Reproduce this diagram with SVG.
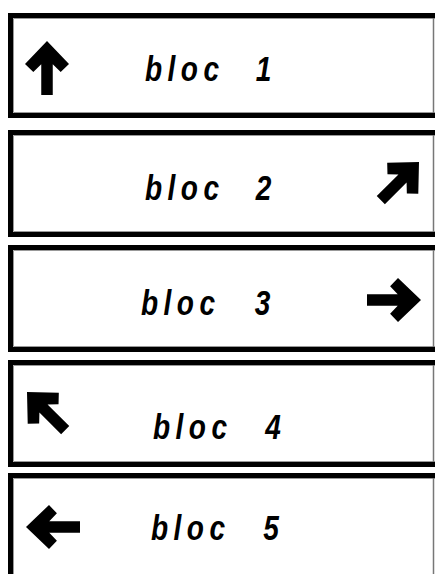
<svg xmlns="http://www.w3.org/2000/svg" width="435" height="574" viewBox="0 0 435 574">
<style>
.frame{fill:none;stroke:#000;stroke-width:5}
.inner{fill:none;stroke:#999;stroke-width:1}
.edge{stroke:#777;stroke-width:1.5}
.lbl{font-family:"Liberation Sans",Arial,sans-serif;font-weight:bold;font-style:italic;font-size:36px;fill:#000;letter-spacing:7px}
.arr{fill:#000}
</style>
<defs>
<polygon id="arrow" class="arr" points="0,0 -23,-22 -30.9,-13.7 -23.3,-5.75 -54,-5.75 -54,5.75 -23.3,5.75 -30.9,13.7 -23,22"/>
</defs>
<rect width="435" height="574" fill="#fff"/>
<g id="bloc1">
<path class="frame" d="M440 15.5 H10.5 V115.5 H440"/>
<path class="inner" d="M440 18.5 H13.5 V112.5 H440"/>
<line class="edge" x1="433.5" y1="18" x2="433.5" y2="113"/>
<use href="#arrow" transform="translate(47,41) rotate(-90)"/>
<text class="lbl" transform="translate(145,81) scale(0.78,1)"><tspan x="0">bloc</tspan> <tspan x="142">1</tspan></text>
</g>
<g id="bloc2">
<path class="frame" d="M440 132.5 H10.5 V234.5 H440"/>
<path class="inner" d="M440 135.5 H13.5 V231.5 H440"/>
<line class="edge" x1="433.5" y1="135" x2="433.5" y2="232"/>
<use href="#arrow" transform="translate(419,162) rotate(-45)"/>
<text class="lbl" transform="translate(145,200) scale(0.78,1)"><tspan x="0">bloc</tspan> <tspan x="142">2</tspan></text>
</g>
<g id="bloc3">
<path class="frame" d="M440 247.5 H10.5 V349.5 H440"/>
<path class="inner" d="M440 250.5 H13.5 V346.5 H440"/>
<line class="edge" x1="433.5" y1="250" x2="433.5" y2="347"/>
<use href="#arrow" transform="translate(421,300)"/>
<text class="lbl" transform="translate(141,315) scale(0.78,1)"><tspan x="0">bloc</tspan> <tspan x="146">3</tspan></text>
</g>
<g id="bloc4">
<path class="frame" d="M440 362.5 H10.5 V464.5 H440"/>
<path class="inner" d="M440 365.5 H13.5 V461.5 H440"/>
<line class="edge" x1="433.5" y1="365" x2="433.5" y2="462"/>
<use href="#arrow" transform="translate(27,392) rotate(-135)"/>
<text class="lbl" transform="translate(153,439) scale(0.78,1)"><tspan x="0">bloc</tspan> <tspan x="144">4</tspan></text>
</g>
<g id="bloc5">
<path class="frame" d="M440 475.5 H10.5 V600"/>
<path class="inner" d="M440 478.5 H13.5 V600"/>
<line class="edge" x1="433.5" y1="478" x2="433.5" y2="574"/>
<use href="#arrow" transform="translate(26,527) rotate(180)"/>
<text class="lbl" transform="translate(151,540) scale(0.78,1)"><tspan x="0">bloc</tspan> <tspan x="144">5</tspan></text>
</g>
<g id="connectors"/>
</svg>
